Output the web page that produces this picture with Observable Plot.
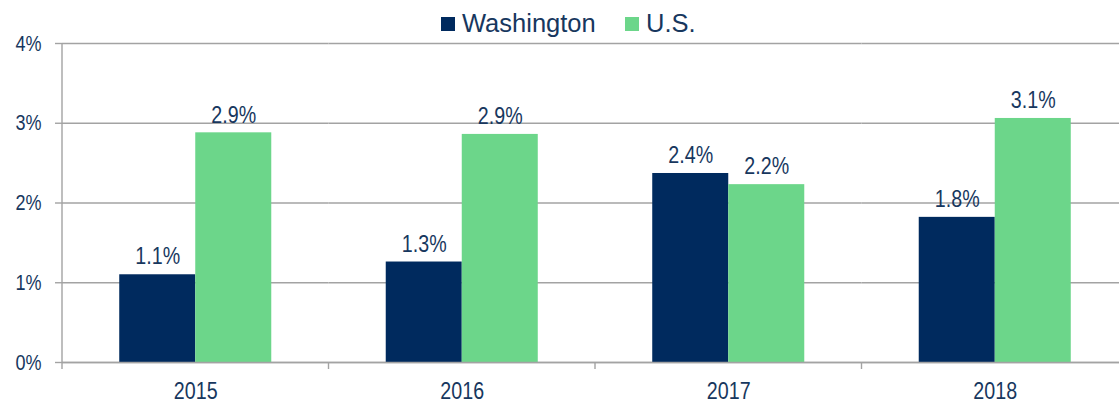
<!DOCTYPE html>
<html>
<head>
<meta charset="utf-8">
<script src="https://cdn.jsdelivr.net/npm/d3@7"></script>
<script src="https://cdn.jsdelivr.net/npm/@observablehq/plot@0.6"></script>
<style>
  html, body { margin: 0; padding: 0; background: #fff; overflow: hidden; width: 1119px; height: 402px; }
  #legend { position: relative; height: 36px; font-family: "Liberation Sans", Arial, sans-serif; font-size: 25.5px; line-height: 1; color: #17375e; }
  .sw { position: absolute; top: 17px; width: 14px; height: 14px; }
  .lab { position: absolute; top: 11px; white-space: nowrap; }
  #chart { width: 1128px; }
  #chart svg { display: block; max-width: none !important; }
</style>
</head>
<body>
<div id="legend"></div>
<div id="chart"></div>
<script>
const years = ["2015", "2016", "2017", "2018"];
const series = ["Washington", "U.S."];
const washington = [1.1, 1.26, 2.37, 1.82];
const us = [2.88, 2.86, 2.23, 3.06];
const yTicks = [0, 1, 2, 3, 4];
const colors = ["#002a5e", "#6cd68a"];
const textColor = "#17375e";
const gridColor = "#a3a3a3";
const fontStack = '"Liberation Sans Narrow", "Arial Narrow", "Liberation Sans", Arial, sans-serif';

const data = years.flatMap((yr, i) => [
  {year: yr, series: series[0], value: washington[i]},
  {year: yr, series: series[1], value: us[i]}
]);

// legend
const legend = document.getElementById("legend");
const legendPos = [[441, 462], [625, 646]];
series.forEach((s, i) => {
  const sw = document.createElement("div");
  sw.className = "sw";
  sw.style.left = legendPos[i][0] + "px";
  sw.style.background = colors[i];
  const lab = document.createElement("div");
  lab.className = "lab";
  lab.style.left = legendPos[i][1] + "px";
  lab.textContent = s;
  legend.append(sw, lab);
});

const chart = Plot.plot({
  width: 1128,
  height: 366,
  marginLeft: 62,
  marginRight: 0,
  marginTop: 7,
  marginBottom: 40,
  style: {fontFamily: fontStack, color: textColor, background: "#fff", overflow: "visible", maxWidth: "none"},
  fx: {domain: years, padding: 0, round: false, label: null},
  x: {domain: series, paddingInner: 0, paddingOuter: 0.753, round: false, axis: null},
  y: {domain: [0, 4], label: null},
  color: {domain: series, range: colors},
  marks: [
    Plot.gridY(yTicks, {stroke: gridColor, strokeOpacity: 1, strokeWidth: 1.4}),
    Plot.axisY(yTicks, {tickSize: 7, tickPadding: 14, stroke: gridColor, strokeWidth: 1.4, fill: textColor, fontSize: 22, tickFormat: d => d + "%", label: null}),
    Plot.barY(data, {fx: "year", x: "series", y: "value", fill: "series"}),
    Plot.ruleY([0], {stroke: gridColor, strokeWidth: 1.4}),
    Plot.text(data, {fx: "year", x: "series", y: "value", text: d => d.value.toFixed(1) + "%", dy: -18, fontSize: 24, fill: textColor}),
    Plot.axisFx({anchor: "bottom", tickSize: 0, tickPadding: 19, fontSize: 24, fill: textColor, label: null})
  ]
});

// axis line on the left and category boundary ticks along the bottom
const fx = chart.scale("fx"), y = chart.scale("y");
const svg = d3.select(chart);
const y0 = y.apply(0), yTop = y.apply(4);
const bounds = years.map(yr => fx.apply(yr)).concat([fx.apply(years[years.length - 1]) + fx.bandwidth]);
svg.append("line")
  .attr("x1", bounds[0]).attr("x2", bounds[0]).attr("y1", yTop).attr("y2", y0 + 7)
  .attr("stroke", gridColor).attr("stroke-width", 1.4);
svg.selectAll("line.bt").data(bounds.slice(1)).join("line")
  .attr("class", "bt")
  .attr("x1", d => d).attr("x2", d => d).attr("y1", y0).attr("y2", y0 + 7)
  .attr("stroke", gridColor).attr("stroke-width", 1.4);

// condensed look (narrow sans) for chart texts: scale horizontally about each anchor
svg.selectAll("text").each(function () {
  const t = this.getAttribute("transform") || "";
  this.setAttribute("transform", (t + " scale(0.82,1)").trim());
});

document.getElementById("chart").append(chart);
</script>
</body>
</html>
